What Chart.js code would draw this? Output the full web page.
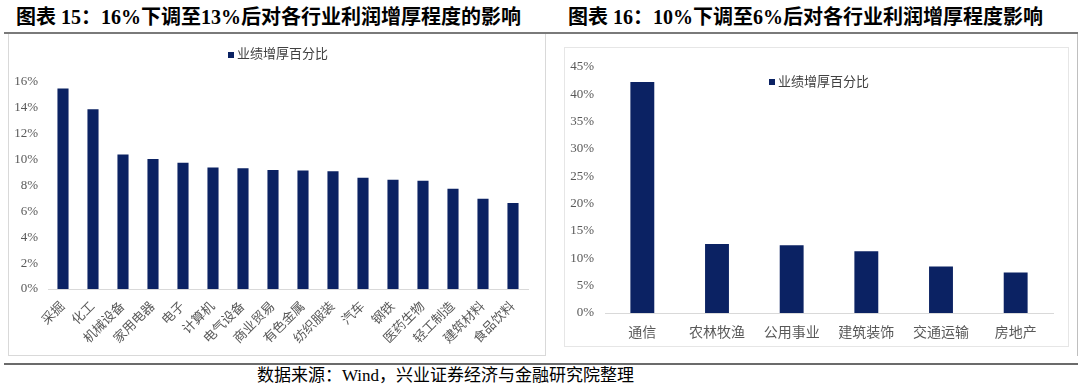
<!DOCTYPE html>
<html><head><meta charset="utf-8">
<script src="https://cdn.jsdelivr.net/npm/chart.js@4.4.1/dist/chart.umd.min.js"></script>
<style>
html,body{margin:0;padding:0;background:#fff;width:1080px;height:391px;overflow:hidden;font-family:'Liberation Serif','Noto Sans CJK SC',serif;}
.abs{position:absolute;}
.title{font-weight:bold;font-size:20px;color:#000;white-space:nowrap;top:6px;line-height:22px;}
.src{font-size:17px;color:#000;white-space:nowrap;top:366px;left:257px;line-height:20px;}
</style></head>
<body>
<div class="abs title" style="left:16px;">图表 15：16%下调至13%后对各行业利润增厚程度的影响</div>
<div class="abs title" style="left:568px;">图表 16：10%下调至6%后对各行业利润增厚程度影响</div>
<div class="abs" style="left:4px;top:32px;width:1074px;height:2px;background:#7a7a7a;"></div>
<div class="abs" style="left:8px;top:34px;width:1px;height:322px;background:#d9d9d9;"></div>
<div class="abs" style="left:8px;top:355px;width:537px;height:1px;background:#d9d9d9;"></div>
<div class="abs" style="left:545px;top:34px;width:1px;height:322px;background:#d9d9d9;"></div>
<div class="abs" style="left:1077px;top:34px;width:1px;height:322px;background:#bfbfbf;"></div>
<div class="abs" style="left:564px;top:47px;width:503px;height:298px;border:1px solid #e6e6e6;"></div>
<div class="abs" style="left:4px;top:363px;width:1074px;height:2px;background:#6b6b6b;"></div>
<div class="abs src">数据来源：Wind，兴业证券经济与金融研究院整理</div>
<div class="abs" style="left:9px;top:34px;width:535px;height:321px;"><canvas id="c1"></canvas></div>
<div class="abs" style="left:565px;top:48px;width:502px;height:297px;"><canvas id="c2"></canvas></div>
<script>
const seriesName = '业绩增厚百分比';
const categories1 = ['采掘','化工','机械设备','家用电器','电子','计算机','电气设备','商业贸易','有色金属','纺织服装','汽车','钢铁','医药生物','轻工制造','建筑材料','食品饮料'];
const values1 = [15.5,13.9,10.4,10.05,9.75,9.4,9.33,9.2,9.15,9.1,8.6,8.45,8.37,7.75,6.98,6.65];
const categories2 = ['通信','农林牧渔','公用事业','建筑装饰','交通运输','房地产'];
const values2 = [42.2,12.6,12.4,11.3,8.5,7.4];
const yTicks1 = {min:0,max:16,step:2};
const yTicks2 = {min:0,max:45,step:5};

const BAR = '#0b2263';
const TICK = '#595959';
const FAM = "'Liberation Serif','Noto Sans CJK SC',serif";

function legendPlugin(sqx, sqy, tx, ty){
  return {id:'customLegend', afterDraw(chart){
    const ctx = chart.ctx; ctx.save();
    ctx.fillStyle = BAR; ctx.fillRect(sqx, sqy, 6, 6);
    ctx.fillStyle = '#404040'; ctx.font = "13px " + FAM;
    ctx.textBaseline = 'middle'; ctx.textAlign = 'left';
    ctx.fillText(seriesName, tx, ty);
    ctx.restore();
  }};
}

function makeChart(id, cats, vals, yt, opt){
  return new Chart(document.getElementById(id), {
    type:'bar',
    data:{labels:cats, datasets:[{label:seriesName, data:vals, backgroundColor:BAR, barPercentage:opt.barPct, categoryPercentage:1}]},
    options:{
      responsive:true, maintainAspectRatio:false, animation:false,
      layout:{padding:{top:opt.top,right:opt.right,left:0,bottom:0}},
      plugins:{legend:{display:false}, tooltip:{enabled:false}},
      scales:{
        x:{grid:{display:false,drawTicks:false}, border:{display:true,color:'#d9d9d9',width:1},
           ticks:{color:TICK, font:{family:FAM,size:opt.xfs}, padding:opt.xpad, autoSkip:false, maxRotation:opt.rot, minRotation:opt.rot},
           afterFit(s){ s.height = opt.xh; }},
        y:{min:yt.min, max:yt.max, grid:{display:false,drawTicks:false}, border:{display:false},
           ticks:{stepSize:yt.step, color:TICK, font:{family:FAM,size:13}, padding:opt.ypad, callback:v=>v+'%'},
           afterFit(s){ s.width = opt.yw; }}
      }
    },
    plugins:[legendPlugin(opt.lg[0],opt.lg[1],opt.lg[2],opt.lg[3])]
  });
}

makeChart('c1', categories1, values1, yTicks1, {barPct:0.37, top:48, right:16, xh:66, yw:39, ypad:10, xpad:10, rot:45, xfs:13, lg:[219,18,228,21]});
makeChart('c2', categories2, values2, yTicks2, {barPct:0.32, top:13, right:14, xh:32, yw:40, ypad:11, xpad:12, rot:0, xfs:14, lg:[204,31,213,35]});
</script>
</body></html>
